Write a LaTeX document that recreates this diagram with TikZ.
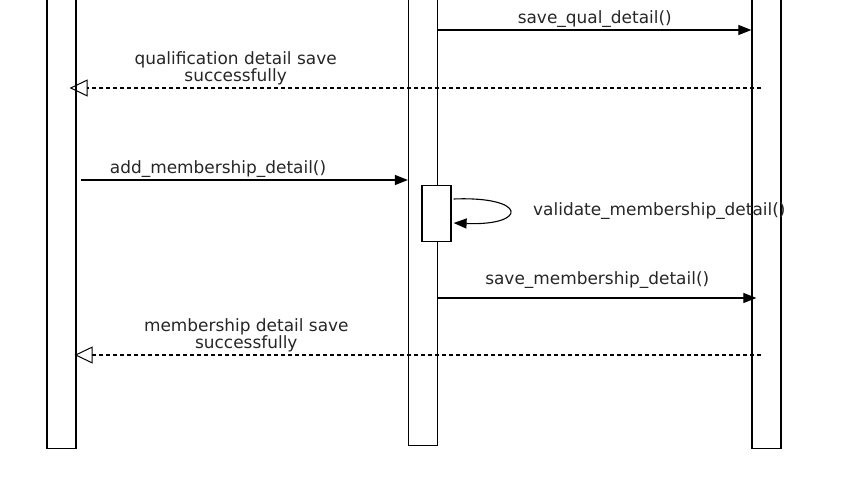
\documentclass[tikz,border=0pt]{standalone}
\usepackage{fontspec}
\setmainfont{DejaVu Sans}
\usetikzlibrary{arrows.meta}
\usetikzlibrary{positioning}

\tikzset{
	lifeline/.style={draw, fill=white, line width=1.2bp, minimum width=29bp,
		minimum height=470bp, inner sep=0pt, anchor=south},
	call/.style={line width=1.1bp, -{Triangle[length=13bp,width=10bp]}},
	reply/.style={line width=1.2bp, dash pattern=on 4.5bp off 2.5bp,
		-{Triangle[open,length=18bp,width=17bp,line width=1bp]}},
	msg/.style={font=\fontsize{17}{17}\selectfont, text=black!85,
		inner sep=2bp, align=center}
}

\begin{document}
\begin{tikzpicture}[x=1bp,y=-1bp]
		\clip (0,0) rectangle (843,495);
		
		% lifelines
		\node[lifeline] (user) at (61.5,449) {};
		\node[lifeline] (ctrl) at (423,446) {};
		\node[lifeline] (db) at (766.5,449) {};
		\node[lifeline, minimum height=56bp, anchor=north] (act) 
		at (436.5,185) {};
		
		% message rows
		\coordinate (m1) at (0,30);
		\coordinate (m2) at (0,88);
		\coordinate (m3) at (0,180);
		\coordinate (l1) at (0,199);
		\coordinate (l2) at (0,223);
		\coordinate (m4) at (0,298);
		\coordinate (m5) at (0,355);
		
		\draw[call] (ctrl.east |- m1) -- (db.west |- m1) 
		node[msg, midway, above] (saveq) {save\_qual\_detail()};
		\draw[reply] ([xshift=10bp]db.west |- m2) -- 
		([xshift=-7bp]user.east |- m2) 
		node[msg, pos=.76, above] (qualok) 
		{qualification detail save\\successfully};
		\draw[call] ([xshift=4bp]user.east |- m3) -- (ctrl.west |- m3) 
		node[msg, pos=.42, above] (addm) {add\_membership\_detail()};
		\draw[call] ([xshift=2bp]act.east |- l1) 
		.. controls (528,196) and (528,226) .. ([xshift=2bp]act.east |- l2);
		\node[msg, anchor=west] (valm) at (531,211) 
		{validate\_membership\_detail()};
		\draw[call] (ctrl.east |- m4) -- ([xshift=5bp]db.west |- m4) 
		node[msg, midway, above=7bp] (savem) {save\_membership\_detail()};
		\draw[reply] ([xshift=10bp]db.west |- m5) -- 
		([xshift=-2bp]user.east |- m5) 
		node[msg, pos=.75, above] (memok) 
		{membership detail save\\successfully};
	\end{tikzpicture}
\end{document}
